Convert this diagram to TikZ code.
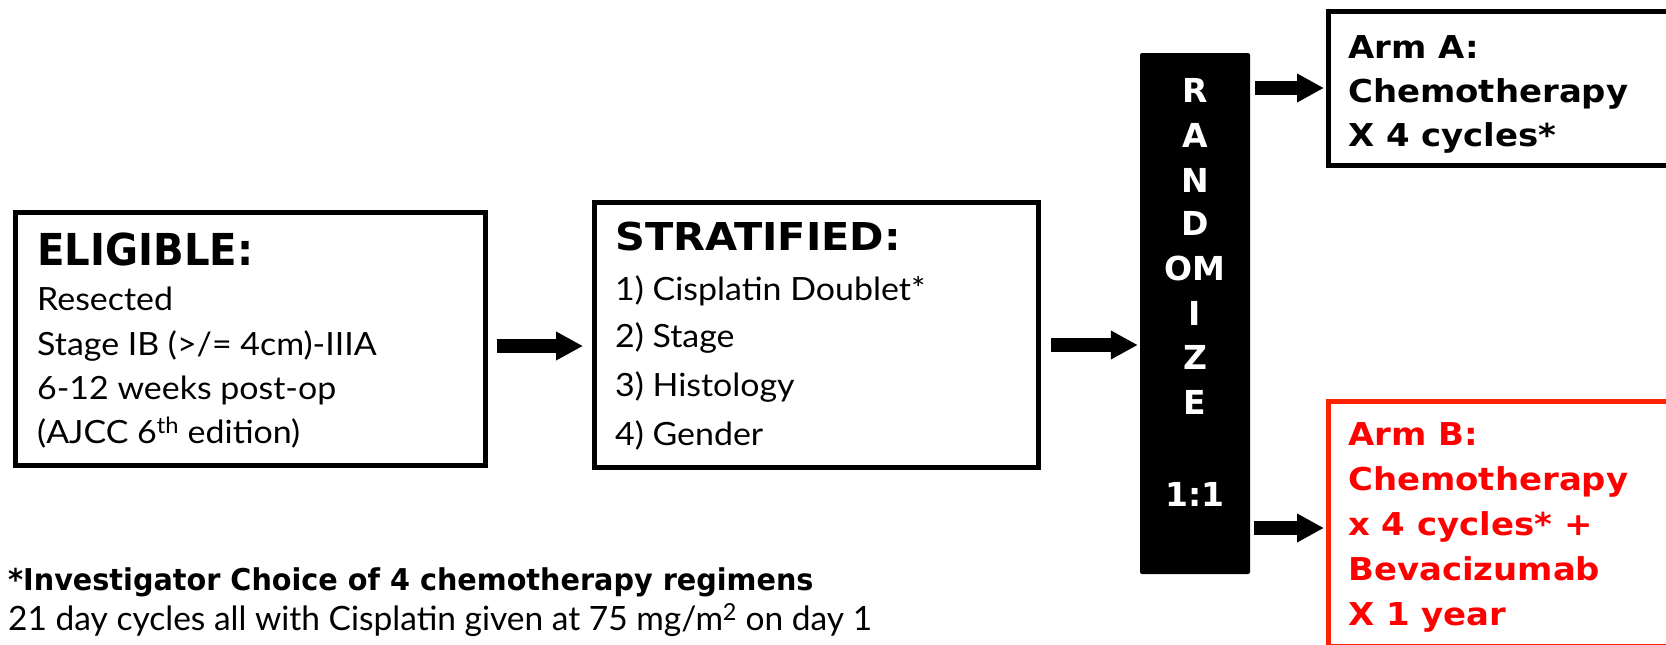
\documentclass[tikz,border=0pt]{standalone}
\usepackage{fontspec}
\usepackage{graphicx}
\setmainfont{Lato}
\newfontfamily\hfam{DejaVu Sans}
\usetikzlibrary{arrows.meta}
\definecolor{armred}{HTML}{FF2200}
\definecolor{txtred}{HTML}{FF0000}
\newcommand\hsx[2]{\scalebox{#1}[1]{#2}}
\tikzset{
  box/.style={draw, line width=5pt, inner sep=0pt},
  bigarrow/.style={line width=14pt, -{Triangle[length=27pt,width=27pt]}},
  txt/.style={anchor=base west, inner sep=0pt},
  headA/.style={txt, font=\hfam\bfseries\fontsize{44}{44}\selectfont},
  headB/.style={txt, font=\hfam\bfseries\fontsize{38.4}{38.4}\selectfont},
  body/.style={txt, font=\fontsize{32}{32}\selectfont},
  arm/.style={txt, font=\hfam\bfseries\fontsize{31.5}{31.5}\selectfont},
  rand/.style={anchor=base, inner sep=0pt, text=white, font=\hfam\bfseries\fontsize{33}{33}\selectfont},
  footb/.style={txt, font=\hfam\bfseries\fontsize{30}{30}\selectfont},
  footr/.style={txt, font=\fontsize{33.5}{33.5}\selectfont},
}
\begin{document}
\begin{tikzpicture}[x=1pt, y=-1pt]
\useasboundingbox (0,0) rectangle (1666,645);
% boxes
\node[box, minimum width=470pt, minimum height=253pt] (elig) at (250.5,339) {};
\node[box, minimum width=444pt, minimum height=265pt] (strat) at (816.5,335) {};
\node[fill=black, rounded corners=2pt, minimum width=110pt, minimum height=521pt, inner sep=0pt] (randbox) at (1195,313.5) {};
\node[box, minimum width=371.5pt, minimum height=154.5pt] (armA) at (1514.25,88.25) {};
\node[box, draw=armred, minimum width=371.5pt, minimum height=244.5pt] (armB) at (1514.25,523.75) {};
% eligible text
\node[headA] (eh) at (37,265) {\hsx{0.915}{ELIGIBLE:}};
\node[body] (e1) at (37,310) {\hsx{1.06}{Resected}};
\node[body] (e2) at (37,355) {\hsx{1.06}{Stage IB (>/= 4cm)-IIIA}};
\node[body] (e3) at (37,399) {\hsx{1.06}{6-12 weeks post-op}};
\node[body] (e4) at (37,443) {\hsx{1.06}{(AJCC 6\textsuperscript{th} edition)}};
% stratified text
\node[headB] (sh) at (615,250) {\hsx{1.08}{STRATIFIED:}};
\node[body] (s1) at (615,300) {\hsx{1.06}{1) Cisplatin Doublet*}};
\node[body] (s2) at (615,347) {\hsx{1.06}{2) Stage}};
\node[body] (s3) at (615,396) {\hsx{1.06}{3) Histology}};
\node[body] (s4) at (615,445) {\hsx{1.06}{4) Gender}};
% randomize letters
\node[rand] (r1) at (1195,102) {R};
\node[rand] (r2) at (1195,147) {A};
\node[rand] (r3) at (1195,192) {N};
\node[rand] (r4) at (1195,235) {D};
\node[rand] (r5) at (1195,280) {OM};
\node[rand] (r6) at (1195,325) {I};
\node[rand] (r7) at (1195,369) {Z};
\node[rand] (r8) at (1195,414) {E};
\node[rand] (r9) at (1195,506) {1:1};
% arm A
\node[arm] (a1) at (1348,58) {\hsx{1.077}{Arm A:}};
\node[arm] (a2) at (1348,102) {\hsx{1.077}{Chemotherapy}};
\node[arm] (a3) at (1348,146) {\hsx{1.077}{X 4 cycles*}};
% arm B
\node[arm, text=txtred] (b1) at (1348,445) {\hsx{1.077}{Arm B:}};
\node[arm, text=txtred] (b2) at (1348,490) {\hsx{1.077}{Chemotherapy}};
\node[arm, text=txtred] (b3) at (1348,535) {\hsx{1.077}{x 4 cycles* +}};
\node[arm, text=txtred] (b4) at (1348,580) {\hsx{1.077}{Bevacizumab}};
\node[arm, text=txtred] (b5) at (1348,625) {\hsx{1.077}{X 1 year}};
% footnote
\node[footb] (f1) at (8,590) {\hsx{0.956}{*Investigator Choice of 4 chemotherapy regimens}};
\node[footr] (f2) at (8,630) {21 day cycles all with Cisplatin given at 75 mg/m\textsuperscript{2} on day 1};
% arrows
\draw[bigarrow, shorten <=9pt, shorten >=9pt] (elig.east |- 0,346) -- (strat.west |- 0,346);
\draw[bigarrow, shorten <=10pt, shorten >=2pt] (strat.east |- 0,345) -- (randbox.west |- 0,345);
\draw[bigarrow, shorten <=5pt, shorten >=2pt] (randbox.east |- 0,88) -- (armA.west |- 0,88);
\draw[bigarrow, shorten <=4pt, shorten >=2pt] (randbox.east |- 0,528) -- (armB.west |- 0,528);
\end{tikzpicture}
\end{document}
